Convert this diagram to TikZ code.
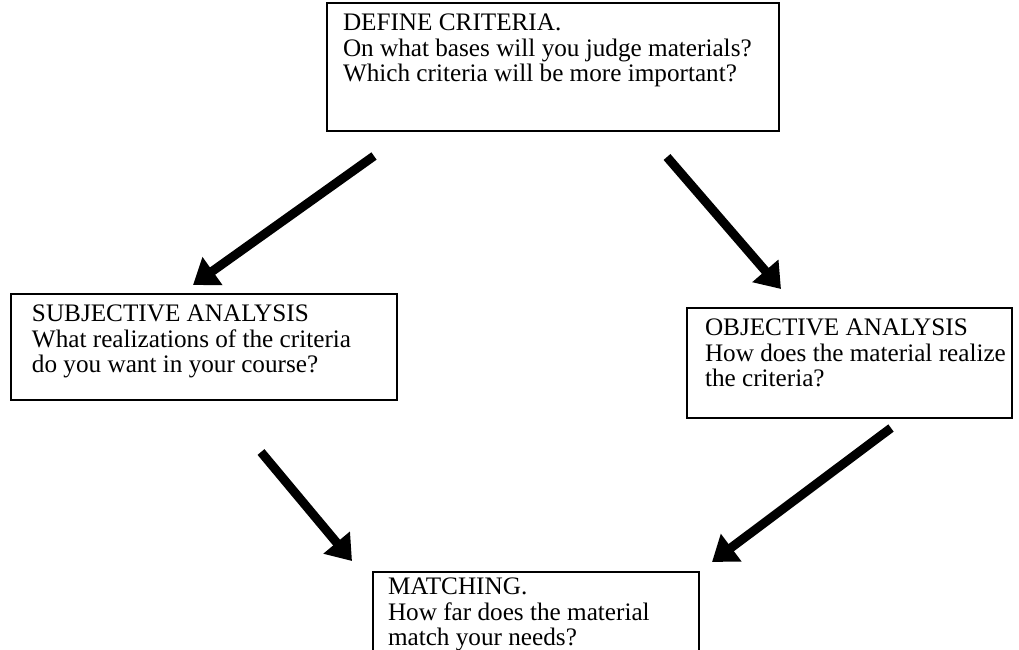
\documentclass[tikz,border=0pt]{standalone}
\usepackage{fontspec}
\setmainfont{Liberation Serif}
\usetikzlibrary{arrows.meta}
\tikzset{
  box/.style={draw=black, line width=0.8pt, anchor=north west, inner sep=0pt, outer sep=0pt},
  txt/.style={anchor=north west, align=left, inner sep=0pt, outer sep=0pt,
    font=\fontsize{12.6pt}{12.7pt}\selectfont},
  bigarrow/.style={line width=4.5pt, -{Triangle[length=12pt,width=16.5pt]}}
}
\begin{document}
\begin{tikzpicture}[x=0.5pt,y=-0.5pt]
\useasboundingbox (0,0) rectangle (1019,649);
\clip (0,0) rectangle (1019,649);
% boxes
\node[box, minimum width=226pt, minimum height=64pt] (top) at (327,3) {};
\node[box, minimum width=193pt, minimum height=53pt] (left) at (11,294) {};
\node[box, minimum width=162.5pt, minimum height=55pt] (right) at (687,308) {};
\node[box, minimum width=163pt, minimum height=50pt] (bottom) at (373,572) {};
% texts
\node[txt] (toptext) at ([shift={(8pt,-5.5pt)}]top.north west)
  {DEFINE CRITERIA.\\On what bases will you judge materials?\\Which criteria will be more important?};
\node[txt] (lefttext) at ([shift={(10.5pt,-5.5pt)}]left.north west)
  {SUBJECTIVE ANALYSIS\\What realizations of the criteria\\do you want in your course?};
\node[txt] (righttext) at ([shift={(9pt,-5.5pt)}]right.north west)
  {OBJECTIVE ANALYSIS\\How does the material realize\\the criteria?};
\node[txt] (bottomtext) at ([shift={(7.5pt,-3pt)}]bottom.north west)
  {MATCHING.\\How far does the material\\match your needs?};
% arrow ends
\coordinate (a1s) at (374,156);
\coordinate (a1e) at (193,285);
\coordinate (a2s) at (667,157);
\coordinate (a2e) at (781,289);
\coordinate (a3s) at (261,452);
\coordinate (a3e) at (352,561);
\coordinate (a4s) at (891,428);
\coordinate (a4e) at (712,562);
\draw[bigarrow] (a1s) -- (a1e);
\draw[bigarrow] (a2s) -- (a2e);
\draw[bigarrow] (a3s) -- (a3e);
\draw[bigarrow] (a4s) -- (a4e);
\end{tikzpicture}
\end{document}
